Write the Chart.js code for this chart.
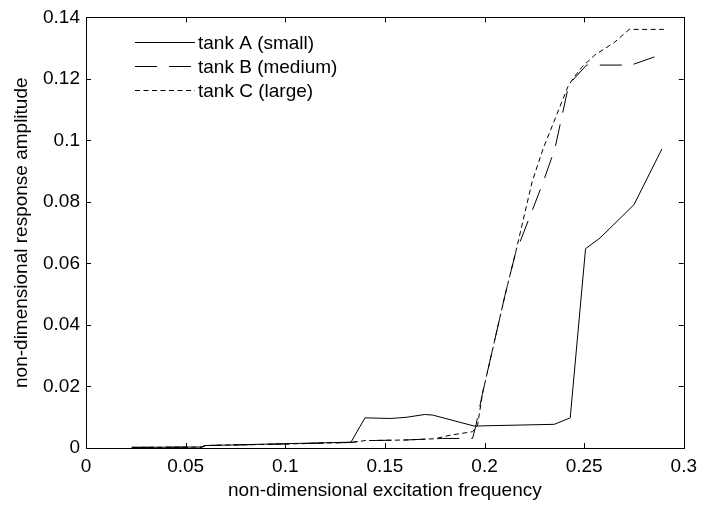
<!DOCTYPE html>
<html>
<head>
<meta charset="utf-8">
<script src="https://cdn.jsdelivr.net/npm/chart.js@4/dist/chart.umd.min.js"></script>
<style>
  html, body { margin: 0; padding: 0; background: #fff; }
  #wrap { width: 704px; height: 505px; }
</style>
</head>
<body>
<div id="wrap"><canvas id="chart" width="704" height="505"></canvas></div>
<script>
// data
const freqA = [0.023, 0.058, 0.060, 0.100, 0.133, 0.140, 0.153, 0.161, 0.170, 0.174, 0.195, 0.199, 0.235, 0.243, 0.2507, 0.258, 0.269, 0.275, 0.289];
const ampA  = [0.0002, 0.0003, 0.0008, 0.0014, 0.0019, 0.0098, 0.0096, 0.0100, 0.0109, 0.0107, 0.0071, 0.0072, 0.0077, 0.0098, 0.0648, 0.0683, 0.0753, 0.0791, 0.0972];

const freqB = [0.023, 0.058, 0.060, 0.100, 0.133, 0.140, 0.160, 0.179, 0.194, 0.1955, 0.199, 0.2104, 0.2154, 0.229, 0.2353, 0.2418, 0.2443, 0.2512, 0.2736, 0.289];
const ampB  = [0.0002, 0.0003, 0.0008, 0.0013, 0.0018, 0.0024, 0.0026, 0.0031, 0.0031, 0.0068, 0.0178, 0.050, 0.063, 0.0857, 0.0973, 0.1167, 0.1196, 0.1245, 0.1245, 0.128];

const freqC = [0.023, 0.058, 0.060, 0.100, 0.133, 0.140, 0.160, 0.175, 0.183, 0.194, 0.1965, 0.199, 0.2104, 0.2154, 0.2239, 0.2294, 0.2418, 0.2443, 0.2488, 0.2552, 0.2652, 0.2726, 0.290];
const ampC  = [0.0002, 0.0003, 0.0008, 0.0013, 0.0018, 0.0024, 0.0026, 0.0030, 0.0042, 0.0053, 0.0074, 0.0178, 0.050, 0.063, 0.0866, 0.0973, 0.1174, 0.120, 0.1238, 0.1277, 0.1319, 0.1361, 0.1361];

const seriesNames = ['tank A (small)', 'tank B (medium)', 'tank C (large)'];
const xTickLabels = ['0', '0.05', '0.1', '0.15', '0.2', '0.25', '0.3'];
const yTickLabels = ['0', '0.02', '0.04', '0.06', '0.08', '0.1', '0.12', '0.14'];

const pts = (xs, ys) => xs.map((x, i) => ({x, y: ys[i]}));
const FONT = 'Arial, "Liberation Sans", sans-serif';
const FSIZE = 19;

// box round the plot and matlab style inward ticks
const frame = {
  id: 'frame',
  afterDraw(chart) {
    const {ctx, chartArea: a, scales} = chart;
    ctx.save();
    ctx.strokeStyle = '#000';
    ctx.lineWidth = 1;
    ctx.strokeRect(Math.round(a.left) + 0.5, Math.round(a.top) + 0.5, Math.round(a.right - a.left), Math.round(a.bottom - a.top));
    const len = 5;
    ctx.beginPath();
    scales.x.ticks.forEach(t => {
      const px = Math.round(scales.x.getPixelForValue(t.value)) + 0.5;
      ctx.moveTo(px, a.bottom); ctx.lineTo(px, a.bottom - len);
      ctx.moveTo(px, a.top); ctx.lineTo(px, a.top + len);
    });
    scales.y.ticks.forEach(t => {
      const py = Math.round(scales.y.getPixelForValue(t.value)) + 0.5;
      ctx.moveTo(a.left, py); ctx.lineTo(a.left + len, py);
      ctx.moveTo(a.right, py); ctx.lineTo(a.right - len, py);
    });
    ctx.stroke();
    ctx.restore();
  }
};

// legend drawn inside the plot, top left, no box
const insideLegend = {
  id: 'insideLegend',
  afterDraw(chart) {
    const ctx = chart.ctx;
    ctx.save();
    ctx.font = FSIZE + 'px ' + FONT;
    ctx.textBaseline = 'middle';
    ctx.fillStyle = '#000';
    chart.data.datasets.forEach((ds, i) => {
      const y = 42.5 + i * 24;
      ctx.beginPath();
      ctx.setLineDash(ds.borderDash || []);
      ctx.strokeStyle = '#000';
      ctx.lineWidth = 1;
      ctx.moveTo(135, y); ctx.lineTo(195, y);
      ctx.stroke();
      ctx.setLineDash([]);
      ctx.fillText(ds.label, 198, y + 1);
    });
    ctx.restore();
  }
};

const lineStyle = { borderColor: '#000', borderWidth: 1, pointRadius: 0, showLine: true, fill: false, tension: 0 };

new Chart(document.getElementById('chart'), {
  type: 'scatter',
  data: {
    datasets: [
      Object.assign({ label: seriesNames[0], data: pts(freqA, ampA), borderDash: [] }, lineStyle),
      Object.assign({ label: seriesNames[1], data: pts(freqB, ampB), borderDash: [22, 12] }, lineStyle),
      Object.assign({ label: seriesNames[2], data: pts(freqC, ampC), borderDash: [5, 3.5] }, lineStyle)
    ]
  },
  options: {
    responsive: false,
    animation: false,
    layout: { padding: { top: 15, right: 14, left: 0, bottom: 0 } },
    plugins: { legend: { display: false }, tooltip: { enabled: false } },
    scales: {
      x: {
        type: 'linear', min: 0, max: 0.3,
        afterFit: s => { s.height = 57; },
        grid: { display: false, drawTicks: false },
        border: { display: false },
        ticks: { stepSize: 0.05, padding: 7, color: '#000', font: { family: FONT, size: FSIZE },
                 maxRotation: 0, autoSkip: false,
                 callback: (v, i) => xTickLabels[i] },
        title: { display: true, text: 'non-dimensional excitation frequency', color: '#000',
                 font: { family: FONT, size: FSIZE }, padding: { top: 0, bottom: 3 } }
      },
      y: {
        type: 'linear', min: 0, max: 0.14,
        afterFit: s => { s.width = 86; },
        grid: { display: false, drawTicks: false },
        border: { display: false },
        ticks: { stepSize: 0.02, padding: 6, color: '#000', font: { family: FONT, size: FSIZE },
                 autoSkip: false,
                 callback: (v, i) => yTickLabels[i] },
        title: { display: true, text: 'non-dimensional response amplitude', color: '#000',
                 font: { family: FONT, size: FSIZE }, padding: { top: 10, bottom: 0 } }
      }
    }
  },
  plugins: [frame, insideLegend]
});
</script>
</body>
</html>
